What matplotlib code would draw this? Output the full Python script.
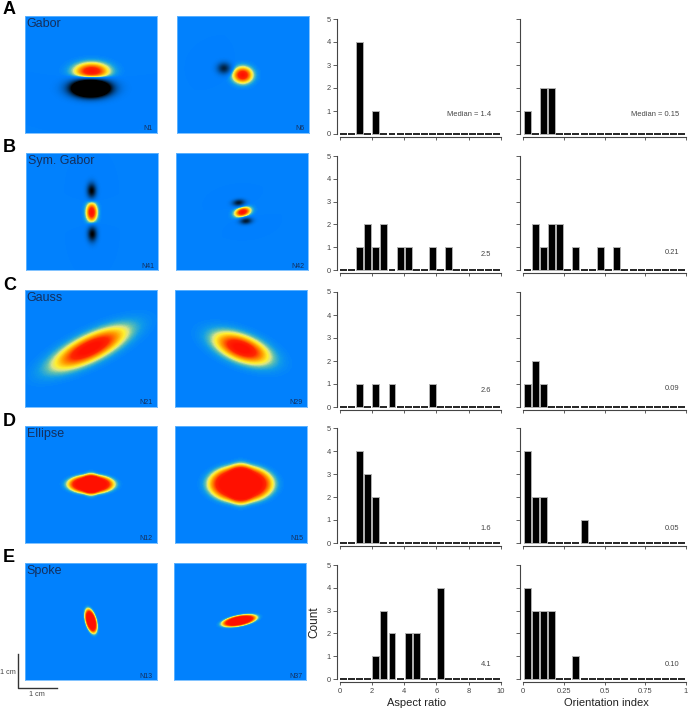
#!/usr/bin/env python3
"""Receptive field maps with aspect ratio and orientation index histograms."""

import numpy as np
import matplotlib
matplotlib.use("Agg")
import matplotlib.pyplot as plt
from matplotlib.colors import LinearSegmentedColormap

W, H = 688, 709
plt.rcParams["font.family"] = ["Liberation Sans", "DejaVu Sans"]

PANELS = ["A", "B", "C", "D", "E"]
PANEL_Y = [10, 148, 285, 422, 558]
NAMES = ["Gabor", "Sym. Gabor", "Gauss", "Ellipse", "Spoke"]
CELL_LEFT = ["N1", "N41", "N21", "N12", "N13"]
CELL_RIGHT = ["N6", "N42", "N29", "N15", "N37"]

# counts per bin: 20 bins across each x range
ASPECT_A = [0, 0, 4, 0, 1, 0, 0, 0, 0, 0, 0, 0, 0, 0, 0, 0, 0, 0, 0, 0]
ASPECT_B = [0, 0, 1, 2, 1, 2, 0, 1, 1, 0, 0, 1, 0, 1, 0, 0, 0, 0, 0, 0]
ASPECT_C = [0, 0, 1, 0, 1, 0, 1, 0, 0, 0, 0, 1, 0, 0, 0, 0, 0, 0, 0, 0]
ASPECT_D = [0, 0, 4, 3, 2, 0, 0, 0, 0, 0, 0, 0, 0, 0, 0, 0, 0, 0, 0, 0]
ASPECT_E = [0, 0, 0, 0, 1, 3, 2, 0, 2, 2, 0, 0, 4, 0, 0, 0, 0, 0, 0, 0]
ORIENT_A = [1, 0, 2, 2, 0, 0, 0, 0, 0, 0, 0, 0, 0, 0, 0, 0, 0, 0, 0, 0]
ORIENT_B = [0, 2, 1, 2, 2, 0, 1, 0, 0, 1, 0, 1, 0, 0, 0, 0, 0, 0, 0, 0]
ORIENT_C = [1, 2, 1, 0, 0, 0, 0, 0, 0, 0, 0, 0, 0, 0, 0, 0, 0, 0, 0, 0]
ORIENT_D = [4, 2, 2, 0, 0, 0, 0, 1, 0, 0, 0, 0, 0, 0, 0, 0, 0, 0, 0, 0]
ORIENT_E = [4, 3, 3, 3, 0, 0, 1, 0, 0, 0, 0, 0, 0, 0, 0, 0, 0, 0, 0, 0]
ASPECT = [ASPECT_A, ASPECT_B, ASPECT_C, ASPECT_D, ASPECT_E]
ORIENT = [ORIENT_A, ORIENT_B, ORIENT_C, ORIENT_D, ORIENT_E]
ASPECT_MED = ["Median = 1.4", "2.5", "2.6", "1.6", "4.1"]
ORIENT_MED = ["Median = 0.15", "0.21", "0.09", "0.05", "0.10"]

# blobs: cx, cy, su, sv, angle, amplitude, flatness
BLOBS_AL = [(66.7, 55.5, 15, 7.5, 0, 1.0, 1), (65.7, 72.3, 16.5, 7.5, 0, -4.0, 1)]
BLOBS_AR = [(65.7, 59, 8.5, 7, 0, 1.0, 1), (47, 52.3, 6.5, 5.5, 0, -0.75, 1)]
BLOBS_BL = [(65.7, 59.3, 4.8, 8.5, 0, 1.0, 1), (65.7, 37.7, 4.5, 7.5, 0, -1.0, 1),
            (66.3, 81, 4.5, 7.5, 0, -1.0, 1)]
BLOBS_BR = [(66.7, 59, 7, 4, 15, 1.0, 1), (62.7, 49.7, 6, 3.2, 5, -0.8, 1),
            (70, 68, 6, 3.2, 5, -0.8, 1)]
BLOBS_CL = [(65, 58.3, 33, 10.5, 26, 1.1, 1)]
BLOBS_CR = [(66.7, 58.3, 24, 10.5, -21, 1.1, 1)]
BLOBS_DL = [(66, 58.3, 21, 8.5, 0, 1.3, 2), (66, 58.3, 8, 10.5, 0, 0.5, 2)]
BLOBS_DR = [(65.7, 58, 29, 16.5, 0, 1.3, 2), (65.7, 58, 12, 18.5, 0, 0.5, 2)]
BLOBS_EL = [(66, 58, 11.5, 5, -75, 1.3, 2)]
BLOBS_ER = [(65.3, 57.7, 16, 4.8, 11, 1.3, 2)]
BLOBS_LEFT = [BLOBS_AL, BLOBS_BL, BLOBS_CL, BLOBS_DL, BLOBS_EL]
BLOBS_RIGHT = [BLOBS_AR, BLOBS_BR, BLOBS_CR, BLOBS_DR, BLOBS_ER]

# pixel layout per row
MAP_LEFT_X = [25, 26, 25, 25, 25]
MAP_RIGHT_X = [177, 176, 175, 175, 174]
MAP_TOP = [16, 153, 290, 426, 563]
HIST_TOP = [19, 156, 292, 428, 565]
HIST_ZERO = [134, 270, 407, 543, 679]
ASPECT_TEXT_Y = [115, 254, 390, 529, 665]
ORIENT_TEXT_Y = [115, 253, 389, 528, 664]

NAVY = "#14305e"
GREY = "#444444"

rf_cmap = LinearSegmentedColormap.from_list("rf", [
    (0.0, "#000000"), (0.5, "#0080ff"), (0.53, "#109ce8"), (0.57, "#60c0b0"),
    (0.61, "#d8e488"), (0.65, "#fff030"), (0.74, "#ffa000"), (0.88, "#ff2800"),
    (1.0, "#ff1000")])


def pixel_axes(fig, x0, y0, x1, y1):
    return fig.add_axes([x0 / W, 1 - y1 / H, (x1 - x0) / W, (y1 - y0) / H])


def put_text(fig, x, y, s, **kw):
    fig.text(x / W, 1 - y / H, s, **kw)


def rf_field(blobs, nx=132, ny=117):
    xx, yy = np.meshgrid(np.arange(nx) + 0.5, np.arange(ny) + 0.5)
    out = np.zeros_like(xx)
    for cx, cy, su, sv, ang, amp, p in blobs:
        a = np.deg2rad(ang)
        dx, dy = xx - cx, yy - cy
        u = dx * np.cos(a) - dy * np.sin(a)
        v = dx * np.sin(a) + dy * np.cos(a)
        out += amp * np.exp(-((u / su) ** 2 + (v / sv) ** 2) ** p)
    return out


def draw_map(fig, x0, y0, blobs, cell):
    ax = pixel_axes(fig, x0, y0, x0 + 132, y0 + 117)
    ax.imshow(rf_field(blobs), cmap=rf_cmap, vmin=-1, vmax=1, aspect="auto",
              interpolation="bilinear")
    ax.set_xticks([])
    ax.set_yticks([])
    for sp in ax.spines.values():
        sp.set_color("#6ab8ff")
        sp.set_linewidth(0.6)
    put_text(fig, x0 + 128, y0 + 113, cell, fontsize=5, color=NAVY, ha="right", va="center")


def draw_hist(fig, x0, x1, top, zero, counts, xmax, ticks, ticklabels, show_x, show_y):
    ax = pixel_axes(fig, x0, top, x1, zero)
    step = xmax / 20
    centers = (np.arange(20) + 0.5) * step
    edges = ["#b0b0b0" if c > 0 else "black" for c in counts]
    widths = [0.7 if c > 0 else 1.2 for c in counts]
    ax.bar(centers, counts, width=step * 0.86, color="black", edgecolor=edges,
           linewidth=widths, clip_on=False, zorder=3)
    ax.set_xlim(0, xmax)
    ax.set_ylim(0, 5)
    for side in ["top", "right"]:
        ax.spines[side].set_visible(False)
    for side in ["left", "bottom"]:
        ax.spines[side].set_position(("outward", 2))
        ax.spines[side].set_color(GREY)
        ax.spines[side].set_linewidth(0.8)
    ax.set_xticks(ticks)
    ax.set_yticks(range(6))
    ax.set_xticklabels(ticklabels if show_x else [])
    if not show_y:
        ax.set_yticklabels([])
    ax.tick_params(axis="y", length=2.8, width=0.6, color=GREY, labelcolor=GREY,
                   labelsize=5.4, pad=1.5)
    ax.tick_params(axis="x", length=2.2, width=0.6, color=GREY, labelcolor=GREY,
                   labelsize=5.4, pad=2.5)
    return ax


def main():
    fig = plt.figure(figsize=(W / 100, H / 100), dpi=100)
    for i in range(5):
        put_text(fig, 3, PANEL_Y[i], PANELS[i], fontsize=13, fontweight="bold",
                 ha="left", va="center", color="black")
        draw_map(fig, MAP_LEFT_X[i], MAP_TOP[i], BLOBS_LEFT[i], CELL_LEFT[i])
        draw_map(fig, MAP_RIGHT_X[i], MAP_TOP[i], BLOBS_RIGHT[i], CELL_RIGHT[i])
        put_text(fig, MAP_LEFT_X[i] + 1.5, MAP_TOP[i] + 8, NAMES[i], fontsize=9,
                 color=NAVY, ha="left", va="center")

        last = i == 4
        draw_hist(fig, 339.5, 501, HIST_TOP[i], HIST_ZERO[i], ASPECT[i], 10,
                  [0, 2, 4, 6, 8, 10], ["0", "2", "4", "6", "8", "10"], last, True)
        draw_hist(fig, 523, 686, HIST_TOP[i], HIST_ZERO[i], ORIENT[i], 1,
                  [0, 0.25, 0.5, 0.75, 1], ["0", "0.25", "0.5", "0.75", "1"], last, False)
        put_text(fig, 491, ASPECT_TEXT_Y[i], ASPECT_MED[i], fontsize=5.4, color=GREY,
                 ha="right", va="center")
        put_text(fig, 679, ORIENT_TEXT_Y[i], ORIENT_MED[i], fontsize=5.4, color=GREY,
                 ha="right", va="center")

    put_text(fig, 314, 622, "Count", fontsize=8.5, rotation=90, color="#222222",
             ha="center", va="center")
    put_text(fig, 417, 703, "Aspect ratio", fontsize=8, color="#222222", ha="center", va="center")
    put_text(fig, 606, 703, "Orientation index", fontsize=8, color="#222222", ha="center", va="center")

    # scale bar
    overlay = fig.add_axes([0, 0, 1, 1], facecolor="none")
    overlay.set_xlim(0, W)
    overlay.set_ylim(H, 0)
    overlay.axis("off")
    overlay.plot([18, 18, 57], [654, 688, 688], color="#333333", lw=1.0)
    put_text(fig, 8, 673, "1 cm", fontsize=5.2, color=GREY, ha="center", va="center")
    put_text(fig, 37, 695, "1 cm", fontsize=5.2, color=GREY, ha="center", va="center")

    fig.savefig("out.png", dpi=100)
    plt.close(fig)


if __name__ == "__main__":
    main()
